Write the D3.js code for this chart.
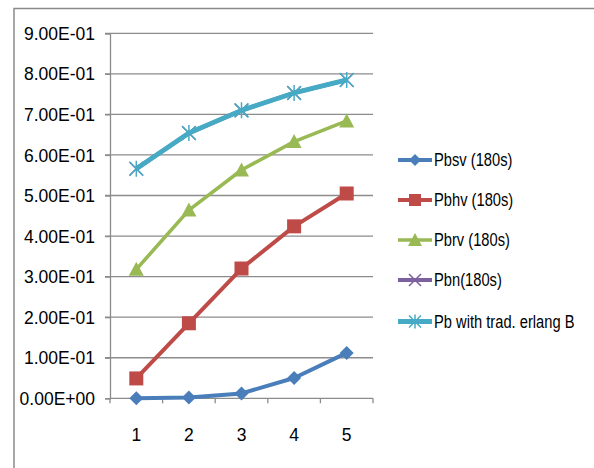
<!DOCTYPE html>
<html><head><meta charset="utf-8">
<script src="https://cdn.jsdelivr.net/npm/d3@7"></script>
<style>
html,body{margin:0;padding:0;background:#fff;}
svg{display:block;}
text{font-family:"Liberation Sans Narrow","Arial Narrow","Liberation Sans",sans-serif;fill:#000;}
</style></head>
<body>
<svg id="chart" width="594" height="468"></svg>
<script>
const categories = ["1","2","3","4","5"];
const seriesNames = ["Pbsv (180s)","Pbhv (180s)","Pbrv (180s)","Pbn(180s)","Pb with trad. erlang B"];
const pbsv = [0.000, 0.002, 0.012, 0.050, 0.112];
const pbhv = [0.049, 0.185, 0.320, 0.424, 0.505];
const pbrv = [0.318, 0.464, 0.563, 0.633, 0.684];
const pbn  = [0.566, 0.654, 0.710, 0.753, 0.785];
const pbErlang = [0.566, 0.654, 0.710, 0.753, 0.785];
const yTickValues = [0,0.1,0.2,0.3,0.4,0.5,0.6,0.7,0.8,0.9];
const yTickLabels = ["0.00E+00","1.00E-01","2.00E-01","3.00E-01","4.00E-01","5.00E-01","6.00E-01","7.00E-01","8.00E-01","9.00E-01"];

const colors = ["#4A7EBB","#BE4B48","#98B954","#7D60A0","#46AAC5"];
const markers = ["diamond","square","triangle","x","asterisk"];
const widths = [4,4,3.6,4,4.8];
const seriesData = [pbsv,pbhv,pbrv,pbn,pbErlang];

const svg = d3.select("#chart");
const grid = "#8C8C8C";

// outer frame (extends past window on right and bottom)
svg.append("rect").attr("x",14).attr("y",8.5).attr("width",600).attr("height",480)
  .attr("fill","none").attr("stroke","#8A8A8A").attr("stroke-width",1.5);

const x = d3.scaleBand().domain(categories).range([110,373]);
const y = d3.scaleLinear().domain([0,0.9]).range([398.3,33.3]);

// gridlines
svg.append("g").selectAll("line").data(yTickValues.filter(v=>v>0)).join("line")
  .attr("x1",105).attr("x2",373).attr("y1",d=>y(d)).attr("y2",d=>y(d))
  .attr("stroke",grid).attr("stroke-width",1.3);

// y axis
const yAxis = d3.axisLeft(y).tickValues(yTickValues).tickSize(5)
  .tickFormat((d,i)=>yTickLabels[i]);
const gy = svg.append("g").attr("transform","translate(110,0)").call(yAxis);
gy.select(".domain").attr("stroke",grid).attr("stroke-width",1.3);
gy.selectAll(".tick line").attr("stroke",grid).attr("stroke-width",1.3);
gy.selectAll(".tick text").attr("x",-15).attr("dy","0.35em")
  .style("font-size","17.5px").style("font-family",null);

// x axis with boundary ticks
const xAxisLine = svg.append("g");
xAxisLine.append("line").attr("x1",110).attr("x2",373).attr("y1",y(0)).attr("y2",y(0))
  .attr("stroke",grid).attr("stroke-width",1.3);
const bounds = categories.map(c=>x(c)).concat([x.range()[1]]);
xAxisLine.selectAll("line.t").data(bounds).join("line").attr("class","t")
  .attr("x1",d=>d).attr("x2",d=>d).attr("y1",y(0)).attr("y2",y(0)+5)
  .attr("stroke",grid).attr("stroke-width",1.3);
svg.append("g").selectAll("text").data(categories).join("text")
  .attr("x",d=>x(d)+x.bandwidth()/2).attr("y",441)
  .attr("text-anchor","middle").style("font-size","17.5px").text(d=>d);

function drawMarker(g,type,color,s){
  if(type==="diamond"){
    g.append("path").attr("d",`M0,${-s}L${s},0L0,${s}L${-s},0Z`).attr("fill",color);
  } else if(type==="square"){
    g.append("rect").attr("x",-s).attr("y",-s).attr("width",2*s).attr("height",2*s).attr("fill",color);
  } else if(type==="triangle"){
    g.append("path").attr("d",`M0,${-s-1}L${s+1},${s}L${-s-1},${s}Z`).attr("fill",color);
  } else if(type==="x"){
    g.append("path").attr("d",`M${-s},${-s}L${s},${s}M${-s},${s}L${s},${-s}`).attr("stroke",color).attr("stroke-width",1.5);
  } else if(type==="asterisk"){
    g.append("path").attr("d",`M${-s},${-s}L${s},${s}M${-s},${s}L${s},${-s}M0,${-s-1}L0,${s+1}`)
      .attr("stroke",color).attr("stroke-width",1.5).attr("fill","none");
  }
}

const line = d3.line().x((d,i)=>x(categories[i])+x.bandwidth()/2).y(d=>y(d));
const msize = [7,7,6.5,6.5,7];
seriesData.forEach((data,k)=>{
  const g = svg.append("g");
  g.append("path").datum(data).attr("d",line).attr("fill","none")
    .attr("stroke",colors[k]).attr("stroke-width",widths[k]).attr("stroke-linejoin","round");
  data.forEach((v,i)=>{
    const m = g.append("g").attr("transform",`translate(${x(categories[i])+x.bandwidth()/2},${y(v)})`);
    drawMarker(m,markers[k],colors[k],msize[k]);
  });
});

// legend
const legY = [160,200,240,280,321.5];
seriesNames.forEach((name,k)=>{
  const g = svg.append("g").attr("transform",`translate(0,${legY[k]})`);
  g.append("line").attr("x1",398).attr("x2",432).attr("y1",0).attr("y2",0)
    .attr("stroke",colors[k]).attr("stroke-width",widths[k]);
  const m = g.append("g").attr("transform","translate(415,0)");
  drawMarker(m,markers[k],colors[k],6);
  g.append("text").attr("transform","translate(434,0) scale(0.84,1)")
    .attr("x",0).attr("y",0).attr("dy","0.35em")
    .style("font-size","17.5px").text(name);
});
</script>
</body></html>
